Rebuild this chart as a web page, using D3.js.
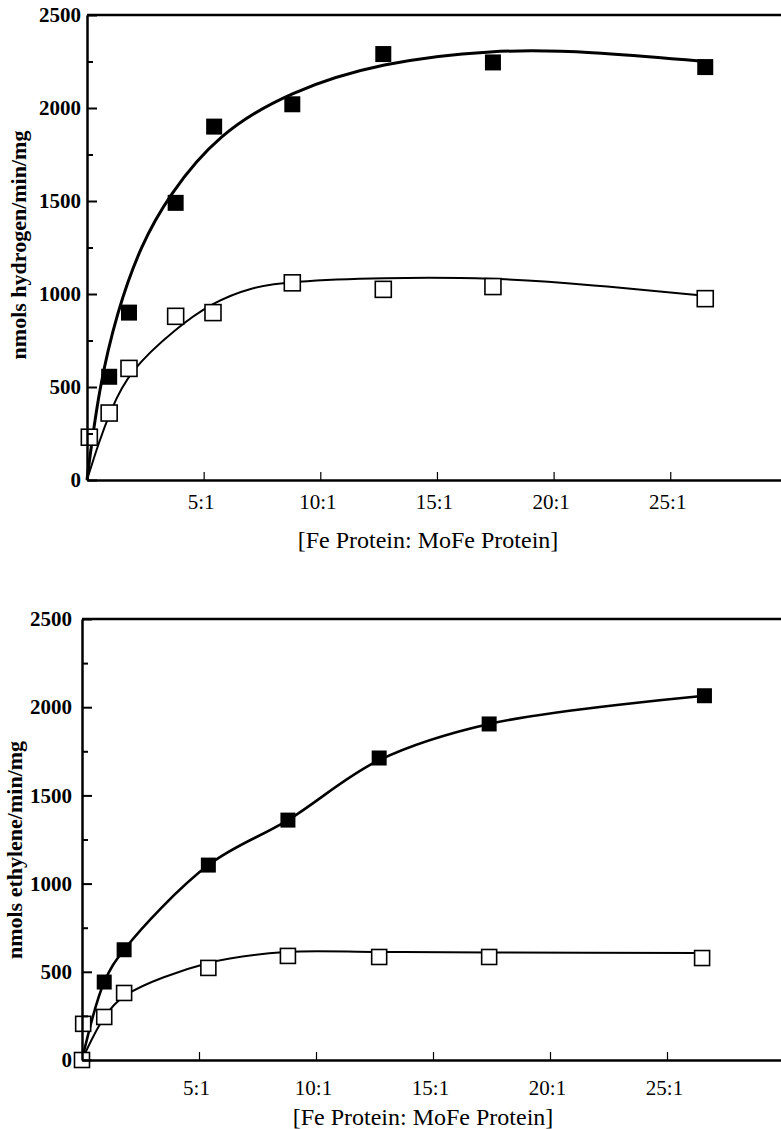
<!DOCTYPE html>
<html>
<head>
<meta charset="utf-8">
<script src="https://cdn.jsdelivr.net/npm/d3@7"></script>
<style>
  body { margin: 0; background: #fff; }
  svg text { font-family: "Liberation Serif", "DejaVu Serif", serif; fill: #000; }
  .tick line { stroke: #000; }
</style>
</head>
<body>
<svg id="chart" width="781" height="1129"></svg>
<script>
// Fe:MoFe protein ratio (x) for each measured point
let ratioH2 = [0.95, 1.8, 3.8, 5.45, 8.8, 12.7, 17.4, 26.5];
let h2Filled = [555, 900, 1490, 1900, 2020, 2290, 2245, 2220];
let ratioH2Open = [0.1, 0.95, 1.8, 3.8, 5.4, 8.8, 12.7, 17.4, 26.5];
let h2Open = [230, 360, 600, 880, 900, 1060, 1025, 1040, 975];

// fitted curves drawn on the hydrogen panel
let h2FitFilledX = [0, 0.5, 1.3, 2.3, 3.5, 5.6, 8.7, 12.6, 17.4, 21.5, 26.5];
let h2FitFilledY = [0, 490, 910, 1260, 1530, 1860, 2090, 2245, 2315, 2305, 2250];
let h2FitOpenX = [0, 0.5, 1.0, 1.8, 3.8, 5.4, 7, 8.7, 12.6, 17.4, 21.6, 26.5];
let h2FitOpenY = [0, 200, 370, 585, 815, 955, 1035, 1068, 1088, 1088, 1050, 990];

let ratioC2H4 = [0.95, 1.8, 5.4, 8.8, 12.7, 17.4, 26.6];
let c2h4Filled = [442, 625, 1105, 1360, 1712, 1905, 2065];
let ratioC2H4Open = [0, 0.05, 0.95, 1.8, 5.4, 8.8, 12.7, 17.4, 26.5];
let c2h4Open = [0, 205, 244, 380, 522, 590, 584, 584, 578];

let c2h4FitFilledX = [0, 0.95, 1.8, 5.4, 8.8, 12.7, 17.4, 26.6];
let c2h4FitFilledY = [0, 442, 625, 1105, 1360, 1700, 1905, 2065];
let c2h4FitOpenX = [0, 1.0, 1.9, 5.4, 8.7, 12.7, 17.4, 26.5];
let c2h4FitOpenY = [0, 250, 370, 550, 612, 612, 610, 607];

let xTicks = [5, 10, 15, 20, 25];
let xTickLabels = ['5:1', '10:1', '15:1', '20:1', '25:1'];
let yTicks = [0, 500, 1000, 1500, 2000, 2500];
let yMinor = [250, 750, 1250, 1750, 2250];

let svg = d3.select('svg#chart');

function pairs(xs, ys) {
    return xs.map((x, i) => [x, ys[i]]);
}

// one panel of the figure
function drawPanel(p) {
    let x = d3.scaleLinear().domain([0, 30]).range([p.left, p.left + 30 * p.unit]);
    let y = d3.scaleLinear().domain([0, 2500]).range([p.bottom, p.top]);
    let g = svg.append('g');

    // curves
    let lineFilled = d3.line().x(d => x(d[0])).y(d => y(d[1])).curve(p.curveFilled);
    let lineOpen = d3.line().x(d => x(d[0])).y(d => y(d[1])).curve(p.curveOpen);
    g.append('path').datum(p.fitFilled)
        .attr('d', lineFilled).attr('fill', 'none')
        .attr('stroke', '#000').attr('stroke-width', p.filledWidth);
    g.append('path').datum(p.fitOpen)
        .attr('d', lineOpen).attr('fill', 'none')
        .attr('stroke', '#000').attr('stroke-width', 2);

    // markers
    let s = p.size;
    g.selectAll('rect.open').data(p.open).enter().append('rect')
        .attr('class', 'open')
        .attr('x', d => x(d[0]) - s / 2).attr('y', d => y(d[1]) - s / 2)
        .attr('width', s).attr('height', s)
        .attr('fill', '#fff').attr('stroke', '#000').attr('stroke-width', 1.6);
    g.selectAll('rect.filled').data(p.filled).enter().append('rect')
        .attr('class', 'filled')
        .attr('x', d => x(d[0]) - s / 2).attr('y', d => y(d[1]) - s / 2)
        .attr('width', s).attr('height', s)
        .attr('fill', '#000');

    // top frame line
    g.append('line')
        .attr('x1', p.left).attr('x2', x(30))
        .attr('y1', p.top).attr('y2', p.top)
        .attr('stroke', '#000').attr('stroke-width', 2.5);

    // y axis, major + minor ticks pointing inward
    g.append('g')
        .attr('transform', 'translate(' + p.left + ',0)')
        .call(d3.axisLeft(y).tickValues(yMinor).tickSize(-6).tickFormat(''))
        .call(a => a.select('.domain').remove())
        .selectAll('line').attr('stroke-width', 2);
    let ya = g.append('g')
        .attr('transform', 'translate(' + p.left + ',0)')
        .call(d3.axisLeft(y).tickValues(yTicks).tickSize(-10).tickSizeOuter(0)
            .tickPadding(p.yPad).tickFormat(d3.format('d')));
    ya.select('.domain').attr('stroke-width', 2.5);
    ya.selectAll('line').attr('stroke-width', 2);
    ya.selectAll('text')
        .attr('font-size', 21).attr('font-weight', 'bold');

    // x axis
    let xa = g.append('g')
        .attr('transform', 'translate(0,' + p.bottom + ')')
        .call(d3.axisBottom(x).tickValues(xTicks).tickSize(-8).tickSizeOuter(0)
            .tickPadding(p.xPad).tickFormat((d, i) => xTickLabels[i]));
    xa.select('.domain').attr('stroke-width', 2.5);
    xa.selectAll('line').attr('stroke-width', 1.2);
    xa.selectAll('text')
        .attr('font-size', 21)
        .attr('dx', -3);

    // axis titles
    g.append('text')
        .attr('x', p.xTitleX).attr('y', p.xTitleY)
        .attr('text-anchor', 'middle')
        .attr('font-size', 24)
        .text('[Fe Protein: MoFe Protein]');
    g.append('text')
        .attr('transform', 'translate(' + p.yTitleX + ',' + p.yTitleY + ') rotate(-90)')
        .attr('text-anchor', 'middle')
        .attr('font-size', 22).attr('font-weight', 'bold')
        .text(p.yTitle);
}

drawPanel({
    left: 87, unit: 23.33, top: 15, bottom: 480, yPad: 6, xPad: 14,
    xTitleX: 428, xTitleY: 548, yTitleX: 26, yTitleY: 245,
    yTitle: 'nmols hydrogen/min/mg',
    filled: pairs(ratioH2, h2Filled),
    open: pairs(ratioH2Open, h2Open),
    fitFilled: pairs(h2FitFilledX, h2FitFilledY),
    fitOpen: pairs(h2FitOpenX, h2FitOpenY),
    curveFilled: d3.curveBasis, curveOpen: d3.curveBasis,
    filledWidth: 3, size: 16
});

drawPanel({
    left: 82, unit: 23.4, top: 619, bottom: 1060, yPad: 10, xPad: 20,
    xTitleX: 423, xTitleY: 1125, yTitleX: 22, yTitleY: 850,
    yTitle: 'nmols ethylene/min/mg',
    filled: pairs(ratioC2H4, c2h4Filled),
    open: pairs(ratioC2H4Open, c2h4Open),
    fitFilled: pairs(c2h4FitFilledX, c2h4FitFilledY),
    fitOpen: pairs(c2h4FitOpenX, c2h4FitOpenY),
    curveFilled: d3.curveCatmullRom, curveOpen: d3.curveCatmullRom,
    filledWidth: 2.6, size: 15
});
</script>
</body>
</html>
